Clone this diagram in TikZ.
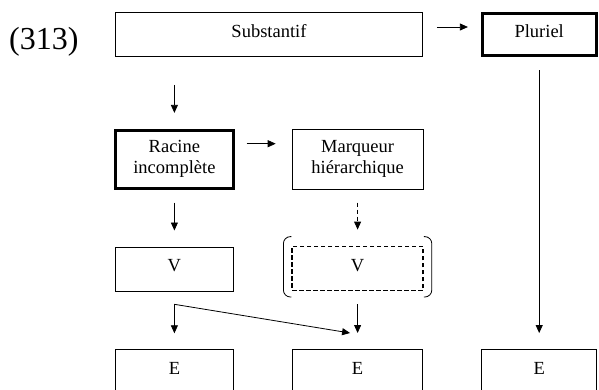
\documentclass[tikz,border=0pt]{standalone}
\usepackage{fontspec}
\setmainfont{Liberation Serif}
\usetikzlibrary{arrows.meta,positioning}

\begin{document}
\begin{tikzpicture}[
    font=\fontsize{18.5pt}{21pt}\selectfont,
    >={Triangle[length=8pt,width=7pt]},
    box/.style={draw, line width=0.8pt, inner xsep=2pt, inner ysep=0pt, text height=25pt, text depth=19pt},
    boldbox/.style={box, line width=2.6pt, text height=24pt, text depth=18.5pt},
    optbox/.style={box, line width=1.4pt, dash pattern=on 4.5pt off 2.5pt},
    twoline/.style={draw, line width=0.8pt, align=center, minimum height=60pt},
    rootbox/.style={twoline, line width=2.6pt, minimum height=58pt},
    arr/.style={->, line width=0.8pt},
    gap/.style={shorten <=13pt, shorten >=16pt}
]
    \useasboundingbox (0,0) rectangle (599pt,-389pt);

    \node[font=\fontsize{32pt}{36pt}\selectfont, anchor=base west, inner sep=0pt] (num) at (9pt,-49pt) {(313)};

    \node[box, minimum width=307pt] (subst) at (269pt,-34.5pt) {Substantif};
    \node[boldbox, minimum width=114pt, right=58pt of subst] (plur) {Pluriel};
    \node[rootbox, minimum width=118pt, below right=72pt and -1pt of subst.south west] (racine) {Racine\\incomplète};
    \node[twoline, minimum width=131pt, right=57pt of racine] (marq) {Marqueur\\hiérarchique};

    \node[box, minimum width=118pt, below=57pt of racine] (v1) {V};
    \node[optbox, minimum width=131pt, below=56pt of marq] (v2) {V};

    \node[box, minimum width=118pt, text depth=20pt, below=58pt of v1] (e1) {E};
    \node[box, minimum width=130pt, text depth=20pt, below=58pt of v2] (e2) {E};
    \node[box, minimum width=115pt, text depth=20pt, below=292pt of plur] (e3) {E};

    \draw[line width=0.8pt, rounded corners=7pt] ([yshift=9pt]v2.north west) -- ++(-8pt,0) -- ([xshift=-8pt,yshift=-6pt]v2.south west) -- ++(8pt,0);
    \draw[line width=0.8pt, rounded corners=7pt] ([yshift=9pt]v2.north east) -- ++(8pt,0) -- ([xshift=8pt,yshift=-6pt]v2.south east) -- ++(-8pt,0);

    \draw[arr, shorten <=14pt, shorten >=13pt] ([yshift=7.5pt]subst.east) -- ([yshift=7.5pt]plur.west);
    \draw[arr, shorten <=28pt, shorten >=16pt] (subst.south -| racine) -- (racine.north);
    \draw[arr, shorten <=12pt, shorten >=16pt] ([yshift=15.5pt]racine.east) -- ([yshift=15.5pt]marq.west);
    \draw[arr, gap] (racine) -- (v1);
    \draw[arr, gap, dash pattern=on 4pt off 3pt] (marq) -- (v2);
    \draw[arr, gap] (v1) -- (e1);
    \draw[arr] ([yshift=-13pt]v1.south) -- ([xshift=-7.5pt,yshift=16pt]e2.north);
    \draw[arr, gap] (v2) -- (e2);
    \draw[arr, gap] (plur) -- (e3);
\end{tikzpicture}
\end{document}
